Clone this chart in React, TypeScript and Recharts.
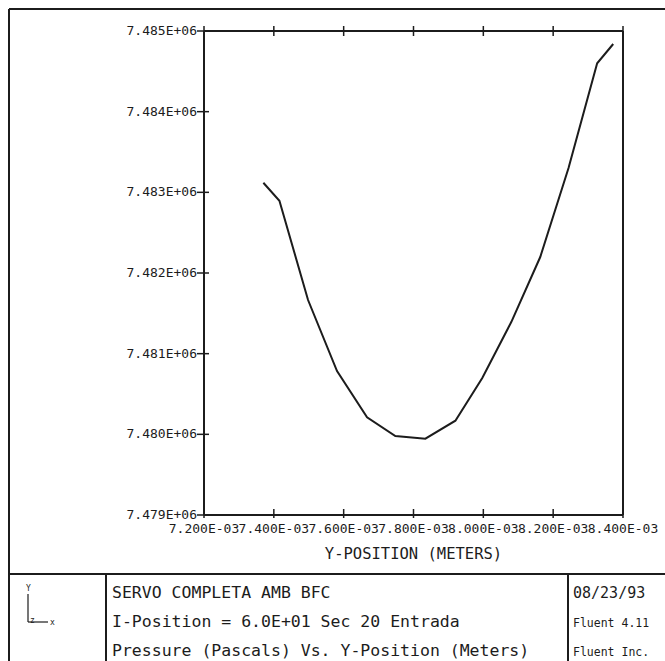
import React from 'react';
import { LineChart, Line, XAxis, YAxis } from 'recharts';

// Y-position (m) and static pressure (Pa) along the section
const yPosition = [
  0.00737, 0.007416, 0.007498, 0.007581, 0.007667, 0.007748, 0.007834,
  0.00792, 0.007997, 0.00808, 0.008163, 0.008244, 0.008326, 0.008372,
];
const pressure = [
  7483119, 7482896, 7481665, 7480785, 7480211, 7479979, 7479946,
  7480169, 7480698, 7481392, 7482198, 7483302, 7484600, 7484839,
];

const xTicks = [0.0072, 0.0074, 0.0076, 0.0078, 0.008, 0.0082, 0.0084];
const yTicks = [7479000, 7480000, 7481000, 7482000, 7483000, 7484000, 7485000];

const titleLines = [
  'SERVO COMPLETA AMB BFC',
  'I-Position = 6.0E+01 Sec 20 Entrada',
  'Pressure (Pascals) Vs. Y-Position (Meters)',
];
const infoLines = ['08/23/93', 'Fluent 4.11', 'Fluent Inc.'];

const INK = '#1c1c1c';
const MONO = '"DejaVu Sans Mono", "Liberation Mono", monospace';

function sci(v: number): string {
  const [m, e] = v.toExponential(3).split('e');
  const n = Number(e);
  return `${m}E${n < 0 ? '-' : '+'}${String(Math.abs(n)).padStart(2, '0')}`;
}

const data = yPosition.map((y, i) => ({ y, p: pressure[i] }));

function BottomTick(props: any) {
  const { x, y, payload } = props;
  return (
    <g>
      <line x1={x} x2={x} y1={y - 6} y2={y + 3} stroke={INK} strokeWidth={1.5} />
      <text x={x} y={y + 18} textAnchor="middle" fontFamily={MONO} fontSize={13} fill={INK}>
        {sci(payload.value)}
      </text>
    </g>
  );
}

function TopTick(props: any) {
  const { x, y } = props;
  return <line x1={x} x2={x} y1={y - 5} y2={y + 5} stroke={INK} strokeWidth={1.5} />;
}

function LeftTick(props: any) {
  const { x, y, payload } = props;
  return (
    <g>
      <line x1={x - 7} x2={x + 5} y1={y} y2={y} stroke={INK} strokeWidth={1.5} />
      <text x={x - 7} y={y + 4} textAnchor="end" fontFamily={MONO} fontSize={13} fill={INK}>
        {sci(payload.value)}
      </text>
    </g>
  );
}

function RightTick(props: any) {
  const { x, y } = props;
  return <line x1={x - 6} x2={x + 6} y1={y} y2={y} stroke={INK} strokeWidth={1.5} />;
}

function Frame() {
  return (
    <svg
      width={665}
      height={661}
      style={{ position: 'absolute', left: 0, top: 0, pointerEvents: 'none' }}
    >
      <g stroke={INK} strokeWidth={2} fill="none">
        <line x1={9} y1={9} x2={665} y2={9} />
        <line x1={9} y1={9} x2={9} y2={661} />
        <line x1={9} y1={574} x2={665} y2={574} />
        <line x1={106} y1={574} x2={106} y2={661} />
        <line x1={568} y1={574} x2={568} y2={661} />
      </g>
      {/* axis triad */}
      <g stroke={INK} strokeWidth={1.2} fill="none">
        <line x1={28} y1={594} x2={28} y2={622} />
        <line x1={28} y1={622} x2={48} y2={622} />
      </g>
      <g fontFamily={MONO} fill={INK} fontSize={8}>
        <text x={26} y={591}>Y</text>
        <text x={30} y={623}>z</text>
        <text x={50} y={625}>x</text>
      </g>
      <g fontFamily={MONO} fill={INK} fontSize={16.5}>
        {titleLines.map((t, i) => (
          <text key={t} x={112} y={598 + i * 29}>
            {t}
          </text>
        ))}
      </g>
      <g fontFamily={MONO} fill={INK}>
        {infoLines.map((t, i) => (
          <text key={t} x={573} y={598 + i * 29} fontSize={i === 0 ? 15 : 11.5}>
            {t}
          </text>
        ))}
      </g>
    </svg>
  );
}

export default function App() {
  return (
    <div style={{ position: 'absolute', left: 0, top: 0, width: 665, height: 661, background: '#fff' }}>
      <LineChart
        width={665}
        height={661}
        data={data}
        margin={{ top: 30, left: 203, right: 41, bottom: 145 }}
      >
        <XAxis
          xAxisId="b"
          dataKey="y"
          type="number"
          domain={[0.0072, 0.0084]}
          ticks={xTicks}
          interval={0}
          height={1}
          tickSize={0}
          tickMargin={0}
          tick={<BottomTick />}
          axisLine={{ stroke: INK, strokeWidth: 2 }}
          label={{
            value: 'Y-POSITION (METERS)',
            position: 'bottom',
            offset: 32,
            fill: INK,
            fontFamily: MONO,
            fontSize: 15.5,
          }}
        />
        <XAxis
          xAxisId="t"
          orientation="top"
          dataKey="y"
          type="number"
          domain={[0.0072, 0.0084]}
          ticks={xTicks}
          interval={0}
          height={1}
          tickSize={0}
          tickMargin={0}
          tick={<TopTick />}
          axisLine={{ stroke: INK, strokeWidth: 2 }}
        />
        <YAxis
          yAxisId="l"
          type="number"
          domain={[7479000, 7485000]}
          ticks={yTicks}
          interval={0}
          width={1}
          tickSize={0}
          tickMargin={0}
          tick={<LeftTick />}
          axisLine={{ stroke: INK, strokeWidth: 2 }}
        />
        <YAxis
          yAxisId="r"
          orientation="right"
          type="number"
          domain={[7479000, 7485000]}
          ticks={yTicks}
          interval={0}
          width={1}
          tickSize={0}
          tickMargin={0}
          tick={<RightTick />}
          axisLine={{ stroke: INK, strokeWidth: 2 }}
        />
        <Line
          xAxisId="b"
          yAxisId="l"
          dataKey="p"
          type="linear"
          stroke={INK}
          strokeWidth={2}
          dot={false}
          isAnimationActive={false}
        />
      </LineChart>
      <Frame />
    </div>
  );
}
